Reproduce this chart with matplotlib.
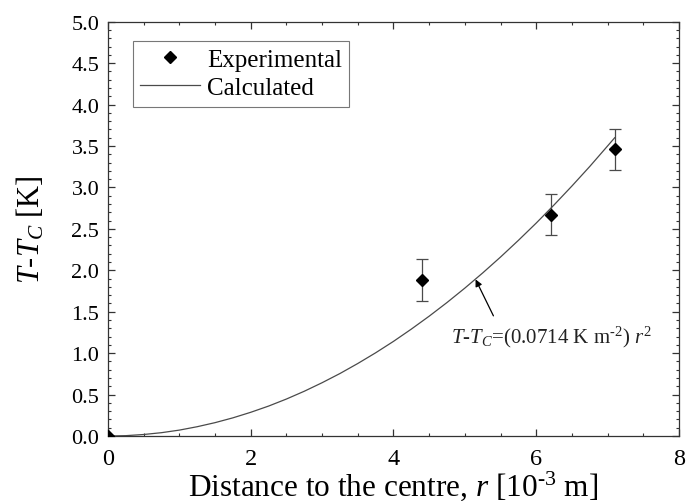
import matplotlib
matplotlib.use("Agg")
import matplotlib.pyplot as plt
from matplotlib.ticker import MultipleLocator, FormatStrFormatter

plt.rcParams['font.family'] = ['Liberation Serif', 'DejaVu Serif']
plt.rcParams['mathtext.fontset'] = 'custom'
plt.rcParams['mathtext.rm'] = 'Liberation Serif'
plt.rcParams['mathtext.it'] = 'Liberation Serif:italic'
plt.rcParams['mathtext.bf'] = 'Liberation Serif:bold'

# Experimental data
exp_r = [0.0, 4.4, 6.2, 7.1]
exp_T = [0.0, 1.88, 2.67, 3.46]
exp_err = [0.0, 0.25, 0.25, 0.25]

# Calculated curve
calc_r = [0, 0.25, 0.5, 0.75, 1, 1.25, 1.5, 1.75, 2, 2.25, 2.5, 2.75, 3, 3.25,
          3.5, 3.75, 4, 4.25, 4.5, 4.75, 5, 5.25, 5.5, 5.75, 6, 6.25, 6.5,
          6.75, 7.1]
calc_T = [0, 0.004, 0.018, 0.040, 0.071, 0.112, 0.161, 0.219, 0.286, 0.361,
          0.446, 0.540, 0.643, 0.754, 0.875, 1.004, 1.142, 1.290, 1.446, 1.611,
          1.785, 1.968, 2.160, 2.361, 2.570, 2.789, 3.017, 3.253, 3.600]

fig = plt.figure(figsize=(6.86, 5.02), dpi=100)
ax = fig.add_axes([0.1574, 0.1295, 0.9898 - 0.1574, 0.9548 - 0.1295])

ax.plot(calc_r, calc_T, color='#4a4a4a', lw=0.9, label='Calculated', zorder=2)
ax.errorbar(exp_r[1:], exp_T[1:], yerr=exp_err[1:], fmt='none', ecolor='#4a4a4a',
            elinewidth=0.9, capsize=4, capthick=0.9, zorder=3)
ax.plot(exp_r, exp_T, linestyle='none', marker='D', ms=6.5, color='black',
        label='Experimental', zorder=4)

ax.set_xlim(0, 8)
ax.set_ylim(0, 5)
ax.xaxis.set_major_locator(MultipleLocator(2))
ax.xaxis.set_minor_locator(MultipleLocator(0.5))
ax.yaxis.set_major_locator(MultipleLocator(0.5))
ax.yaxis.set_minor_locator(MultipleLocator(0.1))
ax.yaxis.set_major_formatter(FormatStrFormatter('%.1f'))
ax.tick_params(which='both', direction='in', top=True, right=True,
               color='#333333')
ax.tick_params(which='major', length=5, width=0.9)
ax.tick_params(which='minor', length=2.5, width=0.8)
ax.tick_params(axis='x', which='major', labelsize=17.5, pad=8.8)
ax.tick_params(axis='y', which='major', labelsize=16, pad=6.2)
for s in ax.spines.values():
    s.set_color('#333333')
    s.set_linewidth(0.9)

ax.set_xlabel(r'Distance to the centre, $r$ [10$^{\text{-3}}$ m]', fontsize=22.5)
ax.xaxis.set_label_coords(0.5, -0.0795)
ax.set_ylabel(r'$T$-$T_C$ [K]', fontsize=22)
ax.yaxis.set_label_coords(-0.108, 0.5)

handles, labels = ax.get_legend_handles_labels()
order = [labels.index('Experimental'), labels.index('Calculated')]
leg = ax.legend([handles[i] for i in order], [labels[i] for i in order],
                loc='upper left', bbox_to_anchor=(0.0438, 0.953), fontsize=18,
                frameon=True, fancybox=False, edgecolor='#555555',
                handlelength=2.4, handletextpad=0.25, borderpad=0.3,
                labelspacing=0.22, borderaxespad=0)
leg.get_frame().set_linewidth(0.8)

ax.text(4.81, 1.13, r'$T$-$T_C$=(0.0714 K m$^{\text{-2}}$) $r^2$', fontsize=15,
        color='#222222', ha='left', va='baseline')
ax.annotate('', xy=(5.15, 1.89), xytext=(5.40, 1.45),
            arrowprops=dict(arrowstyle='-|>', color='black', lw=0.9,
                            mutation_scale=10, shrinkA=0, shrinkB=0))

fig.savefig('out.png', dpi=100)
